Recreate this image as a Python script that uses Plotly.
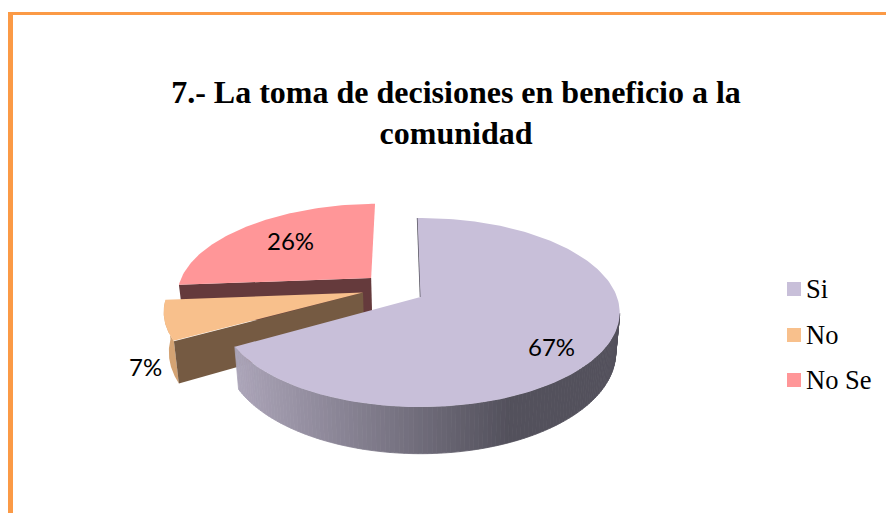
import math
import plotly.graph_objects as go

TITLE = "<b>7.- La toma de decisiones en beneficio a la<br>comunidad</b>"
CATEGORIES = ["Si", "No", "No Se"]
VALUES = [67, 7, 26]
LABELS = ["67%", "7%", "26%"]

TOP_COLORS = ["#C8BFD9", "#F8C08C", "#FF9698"]
RADIAL_COLORS = ["#55535E", "#755A42", "#653A3C"]
OUTER_COLORS = [None, "#D4A373", "#C07070"]
OFFSETS = [(0, 0), (-0.295, 0.05), (-0.26, 0.215)]
LABEL_POS = [(551, 346), (145, 366), (290, 240)]
LEGEND_Y = [289, 335, 380]

CX, CY, R, B, K, H, SHRINK = 420.5, 297, 196.5, 92, 0.164, 39, 0.02
ROTATION = -1.0


def project(u, v, down=False):
    w = 1 + K * v
    s = 1 - SHRINK if down else 1
    return CX + R * u / w * s, CY - B * v / w + (H / w if down else 0)


def ground(offset, deg):
    t = math.radians(deg)
    return offset[0] + math.sin(t), offset[1] + math.cos(t)


def arc(offset, a0, a1, down=False, n=80):
    pts = [project(*ground(offset, a0 + (a1 - a0) * i / n), down) for i in range(n + 1)]
    return pts


def poly(pts, color, line=None):
    return go.Scatter(
        x=[p[0] for p in pts] + [pts[0][0]],
        y=[p[1] for p in pts] + [pts[0][1]],
        mode="lines", fill="toself", fillcolor=color,
        line=dict(color=line or color, width=0.8 if line else 0),
        hoverinfo="skip", showlegend=False,
    )


def side_color(x):
    t = min(max((x - 238) / (510 - 238), 0), 1)
    a, b = (171, 164, 184), (83, 81, 92)
    return "rgb(%d,%d,%d)" % tuple(a[i] + (b[i] - a[i]) * t for i in range(3))


angles = [ROTATION]
for val in VALUES:
    angles.append(angles[-1] + 360 * val / sum(VALUES))

fig = go.Figure()

# "No Se" slice: radial wall, then top
i = 2
a0, a1 = angles[2], angles[3]
apex_t = project(*OFFSETS[i])
apex_b = project(*OFFSETS[i], down=True)
c_t = project(*ground(OFFSETS[i], a0))
c_b = project(*ground(OFFSETS[i], a0), down=True)
fig.add_trace(poly([apex_t, c_t, c_b, apex_b], RADIAL_COLORS[i]))
fig.add_trace(poly([apex_t] + arc(OFFSETS[i], a0, a1), TOP_COLORS[i]))

# "No" slice: outer wall, radial wall, top
i = 1
a0, a1 = angles[1], angles[2]
fig.add_trace(poly(arc(OFFSETS[i], a0, a1) + arc(OFFSETS[i], a1, a0, down=True), OUTER_COLORS[i]))
apex_t = project(*OFFSETS[i])
apex_b = project(*OFFSETS[i], down=True)
c_t = project(*ground(OFFSETS[i], a0))
c_b = project(*ground(OFFSETS[i], a0), down=True)
fig.add_trace(poly([apex_t, c_t, c_b, apex_b], RADIAL_COLORS[i]))
fig.add_trace(poly([apex_t] + arc(OFFSETS[i], a0, a1), TOP_COLORS[i]))

# "Si" slice: shaded outer wall in strips, then top
i = 0
a0, a1 = angles[0], angles[1]
strips = 120
start = 100
for s in range(strips):
    d0 = start + (a1 - start) * s / strips
    d1 = start + (a1 - start) * (s + 1) / strips
    top = arc(OFFSETS[i], d0, d1, n=2)
    bot = arc(OFFSETS[i], d1, d0, down=True, n=2)
    col = side_color((top[0][0] + top[-1][0]) / 2)
    fig.add_trace(poly(top + bot, col, line=col))
apex_t = project(*OFFSETS[i])
c_t = project(*ground(OFFSETS[i], a0))
fig.add_trace(go.Scatter(x=[c_t[0], apex_t[0]], y=[c_t[1], apex_t[1]], mode="lines",
                         line=dict(color=RADIAL_COLORS[0], width=1.5),
                         hoverinfo="skip", showlegend=False))
fig.add_trace(poly([apex_t] + arc(OFFSETS[i], a0, a1, n=160), TOP_COLORS[i]))

# Legend swatches
fig.add_trace(go.Scatter(
    x=[794] * 3, y=LEGEND_Y, mode="markers",
    marker=dict(symbol="square", size=14, color=TOP_COLORS, line=dict(width=0)),
    hoverinfo="skip", showlegend=False,
))

annotations = []
for name, y in zip(CATEGORIES, LEGEND_Y):
    annotations.append(dict(x=804, y=y, text=name, showarrow=False, xanchor="left", yanchor="middle",
                            xref="x", yref="y", font=dict(family="Liberation Serif", size=26.5, color="#000")))
for lab, (x, y) in zip(LABELS, LABEL_POS):
    annotations.append(dict(x=x, y=y, text=lab, showarrow=False, xanchor="center", yanchor="middle",
                            xref="x", yref="y", font=dict(family="Lato", size=24, color="#000")))

ORANGE = "#FB9A46"
fig.update_layout(
    width=886, height=513,
    margin=dict(l=0, r=0, t=0, b=0),
    paper_bgcolor="white", plot_bgcolor="white",
    title=dict(text=TITLE, x=456 / 886, xanchor="center", y=0.80, yanchor="middle",
               font=dict(family="Liberation Serif", size=32, color="#000")),
    xaxis=dict(range=[0, 886], visible=False, fixedrange=True),
    yaxis=dict(range=[513, 0], visible=False, fixedrange=True),
    annotations=annotations,
    shapes=[
        dict(type="rect", xref="x", yref="y", x0=8, x1=886, y0=12, y1=15, fillcolor=ORANGE, line=dict(width=0)),
        dict(type="rect", xref="x", yref="y", x0=8, x1=13, y0=12, y1=513, fillcolor=ORANGE, line=dict(width=0)),
    ],
)

fig.write_html("out.html", config=dict(displayModeBar=False),
               post_script="document.body.style.margin='0';document.body.style.overflow='hidden';")
